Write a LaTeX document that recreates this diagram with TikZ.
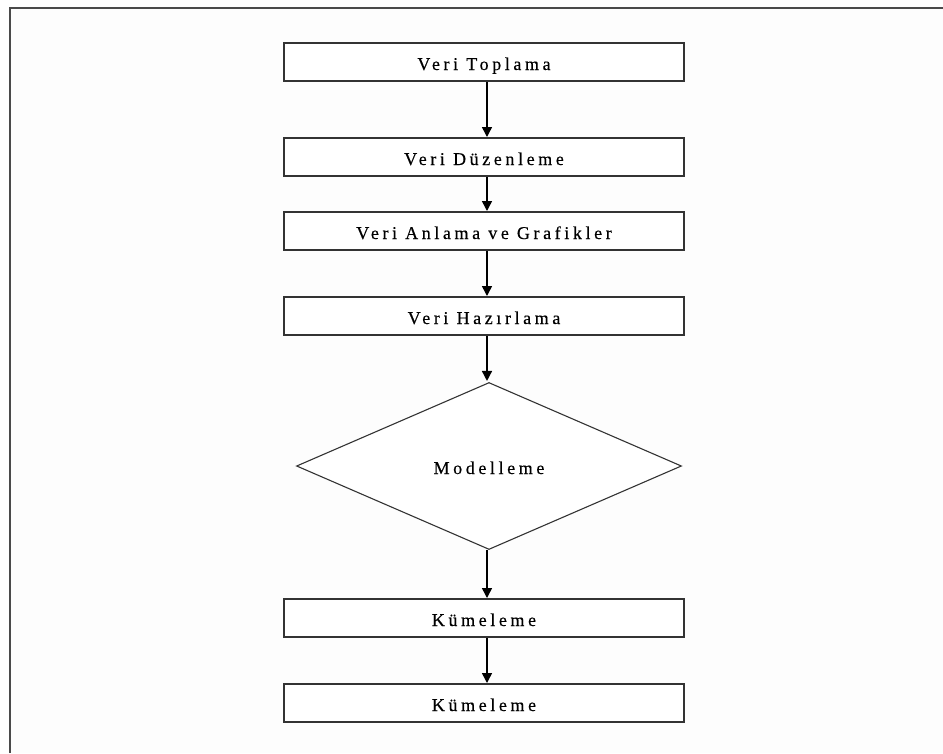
\documentclass[tikz,border=0pt]{standalone}
\usepackage{fontspec}
\setmainfont{Liberation Serif}[LetterSpace=20,FakeBold=0.3]
\usetikzlibrary{shapes.geometric,arrows.meta}
\definecolor{framegray}{HTML}{4A4A4A}
\definecolor{boxline}{HTML}{333333}
\definecolor{paper}{HTML}{FDFDFD}
\tikzset{
  labeltext/.style={text height=16pt, text depth=0pt,
    font=\fontsize{18}{21}\selectfont},
  stepbox/.style={draw=boxline, line width=2pt, fill=white, rectangle,
    minimum width=400pt, minimum height=38pt, inner sep=0pt, labeltext},
  decision/.style={draw=boxline, line width=1.1pt, fill=white, diamond,
    minimum width=385pt, minimum height=167pt, inner sep=0pt, labeltext},
  flow/.style={draw=black, line width=1.5pt, -{Triangle[length=10pt,width=10pt]}},
}
\begin{document}
\begin{tikzpicture}[x=1pt,y=-1pt]
  % page area and the partial frame (top and left edges only)
  \useasboundingbox (0,0) rectangle (943,753);
  \fill[white] (0,0) rectangle (943,753);
  \fill[paper] (10,8) rectangle (943,753);
  \draw[framegray, line width=2pt] (10,753) -- (10,8) -- (943,8);

  % flow steps
  \node[stepbox] (b1) at (484,62)  {Veri Toplama};
  \node[stepbox] (b2) at (484,157) {Veri Düzenleme};
  \node[stepbox] (b3) at (484,231) {Veri Anlama ve Grafikler};
  \node[stepbox] (b4) at (484,316) {Veri Hazırlama};
  \node[decision] (m) at (489,466) {Modelleme};
  \node[stepbox] (k1) at (484,618) {Kümeleme};
  \node[stepbox] (k2) at (484,703) {Kümeleme};

  % vertical axis of the connectors
  \coordinate (ax) at (487,0);

  \draw[flow] (b1.south -| ax) -- (b2.north -| ax);
  \draw[flow] (b2.south -| ax) -- (b3.north -| ax);
  \draw[flow] (b3.south -| ax) -- (b4.north -| ax);
  \draw[flow] (b4.south -| ax) -- ([yshift=1pt]m.north -| ax);
  \draw[flow] (m.south -| ax) -- (k1.north -| ax);
  \draw[flow] (k1.south -| ax) -- (k2.north -| ax);
\end{tikzpicture}
\end{document}
